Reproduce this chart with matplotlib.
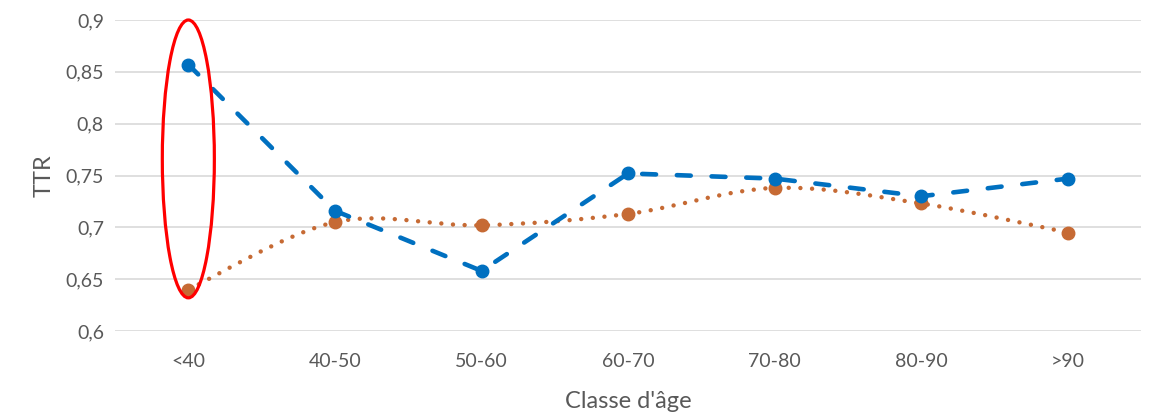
import numpy as np
import matplotlib
matplotlib.use('Agg')
import matplotlib.pyplot as plt
from matplotlib.path import Path
from matplotlib.patches import PathPatch, Ellipse

plt.rcParams['font.family'] = ['Lato', 'DejaVu Sans']
plt.rcParams['lines.scale_dashes'] = False

# données
classes = ['<40', '40-50', '50-60', '60-70', '70-80', '80-90', '>90']
ttr_bleu = [0.857, 0.716, 0.658, 0.752, 0.747, 0.730, 0.747]
ttr_orange = [0.640, 0.705, 0.702, 0.713, 0.738, 0.723, 0.695]
yticks = [0.6, 0.65, 0.7, 0.75, 0.8, 0.85, 0.9]

bleu = '#0070C0'
orange = '#C66A34'
gris = '#595959'

fig = plt.figure(figsize=(11.55, 4.13), dpi=100)
ax = fig.add_axes([0.0996, 0.1985, 0.8885, 0.7531])

x = np.arange(len(classes))

# série bleue : tirets, segments droits
ax.plot(x, ttr_bleu, color=bleu, lw=3.3, linestyle=(0, (10, 15)),
        dash_capstyle='round', marker='o', markersize=9, zorder=4)

# série orange : courbe lissée (style Excel, Catmull-Rom -> Bézier)
pts = np.column_stack([x, ttr_orange])
verts = [pts[0]]
codes = [Path.MOVETO]
n = len(pts)
for i in range(n - 1):
    p0 = pts[max(i - 1, 0)]
    p1 = pts[i]
    p2 = pts[i + 1]
    p3 = pts[min(i + 2, n - 1)]
    c1 = p1 + (p2 - p0) / 6
    c2 = p2 - (p3 - p1) / 6
    verts += [c1, c2, p2]
    codes += [Path.CURVE4] * 3
courbe = PathPatch(Path(verts, codes), facecolor='none', edgecolor=orange,
                   lw=3.2, linestyle=(0, (0.01, 8.4)), capstyle='round', zorder=3)
ax.add_patch(courbe)
ax.plot(x, ttr_orange, linestyle='none', marker='o', markersize=9,
        color=orange, zorder=3)

# ellipse rouge autour de <40
ell = Ellipse((0, 0.766), width=0.355, height=0.268, facecolor='none',
              edgecolor='#FF0000', lw=2.3, clip_on=False, zorder=5)
ax.add_patch(ell)

ax.set_xlim(-0.5, 6.5)
ax.set_ylim(0.6, 0.9)
ax.set_xticks(x)
ax.set_xticklabels(classes)
ax.set_yticks(yticks)
ax.set_yticklabels([f'{v:g}'.replace('.', ',') for v in yticks])
ax.yaxis.grid(True, color='#D9D9D9', lw=1.2)
ax.set_axisbelow(True)
for s in ax.spines.values():
    s.set_visible(False)
ax.tick_params(axis='both', length=0, labelsize=14, colors=gris, pad=8)
ax.tick_params(axis='x', pad=16)
ax.set_ylabel('TTR', fontsize=17, color=gris, labelpad=8)
ax.set_xlabel("Classe d'âge", fontsize=17, color=gris, labelpad=15)

fig.savefig('out.png', dpi=100)
